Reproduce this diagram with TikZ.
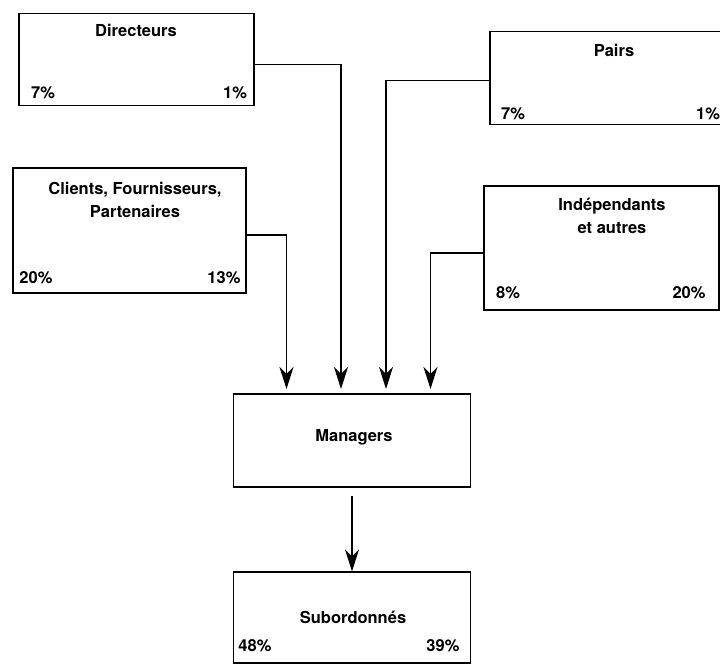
\documentclass[tikz,border=0pt]{standalone}
\usepackage{fontspec}
\setmainfont{TeX Gyre Heros}
\usepackage{tikz}
\usetikzlibrary{arrows.meta}

\tikzset{
  boite/.style={draw, black, line width=1.1pt, inner sep=0pt},
  lbl/.style={font=\fontsize{16.5}{23}\selectfont\bfseries, align=center, inner sep=0pt},
  fleche/.style={-{Stealth[length=22pt,width=14pt,inset=7pt]}, black, line width=1.1pt}
}

\begin{document}
\begin{tikzpicture}[x=1pt,y=1pt]

\useasboundingbox (0,0) rectangle (720,666);

% boites
\node (dir) at (136.5, 606.5)[boite, minimum width=235pt, minimum height=92pt]{};
\node (pai) at (607.5, 588)[boite, minimum width=235pt, minimum height=93pt]{};
\node (cli) at (129.5, 435.5)[boite, minimum width=233pt, minimum height=125pt]{};
\node (ind) at (601.5, 418)[boite, minimum width=235pt, minimum height=124pt]{};
\node (mgr) at (352, 225.5)[boite, minimum width=237pt, minimum height=93pt]{};
\node (sub) at (352, 48.5)[boite, minimum width=237pt, minimum height=91pt]{};

% titres
         \node (tdir) at (136, 636)[lbl]{Directeurs};
         \node (tpai) at (614, 616)[lbl]{Pairs};
         \node (tcli) at (135, 466.5)[lbl]{Clients, Fournisseurs,\\Partenaires};
         \node (tind) at (612, 450.5)[lbl]{Indépendants\\et autres};
         \node (tmgr) at (354, 229)[lbl]{Managers};
         \node (tsub) at (353, 49)[lbl]{Subordonnés};

% pourcentages
 \node (pdir1) at (43, 573.5)[lbl]{7\%};
          \node (pdir2) at (235, 573.5)[lbl]{1\%};

 \node (ppai1) at (513, 552)[lbl]{7\%};
          \node (ppai2) at (708, 552)[lbl]{1\%};

 \node (pcli1) at (36, 388)[lbl]{20\%};
          \node (pcli2) at (224, 388)[lbl]{13\%};

 \node (pind1) at (508, 373.5)[lbl]{8\%};
          \node (pind2) at (689, 373.5)[lbl]{20\%};

 \node (psub1) at (255, 20)[lbl]{48\%};
          \node (psub2) at (443, 20)[lbl]{39\%};

% entrees des managers
\coordinate (in1) at (286.5, 272);
\coordinate (in2) at (341, 272);
\coordinate (in3) at (386, 272);
\coordinate (in4) at (430.5, 272);

\draw [fleche, shorten >=5pt] ([yshift=-4.5pt]cli.east) -| (in1);
\draw [fleche, shorten >=5pt] ([yshift=-5pt]dir.east) -| (in2);
\draw [fleche, shorten >=5pt] ([yshift=-2.5pt]pai.west) -| (in3);
\draw [fleche, shorten >=5pt] ([yshift=-5pt]ind.west) -| (in4);

\draw [fleche] ([yshift=-8pt]mgr.south) -- (sub.north);

\end{tikzpicture}
\end{document}
